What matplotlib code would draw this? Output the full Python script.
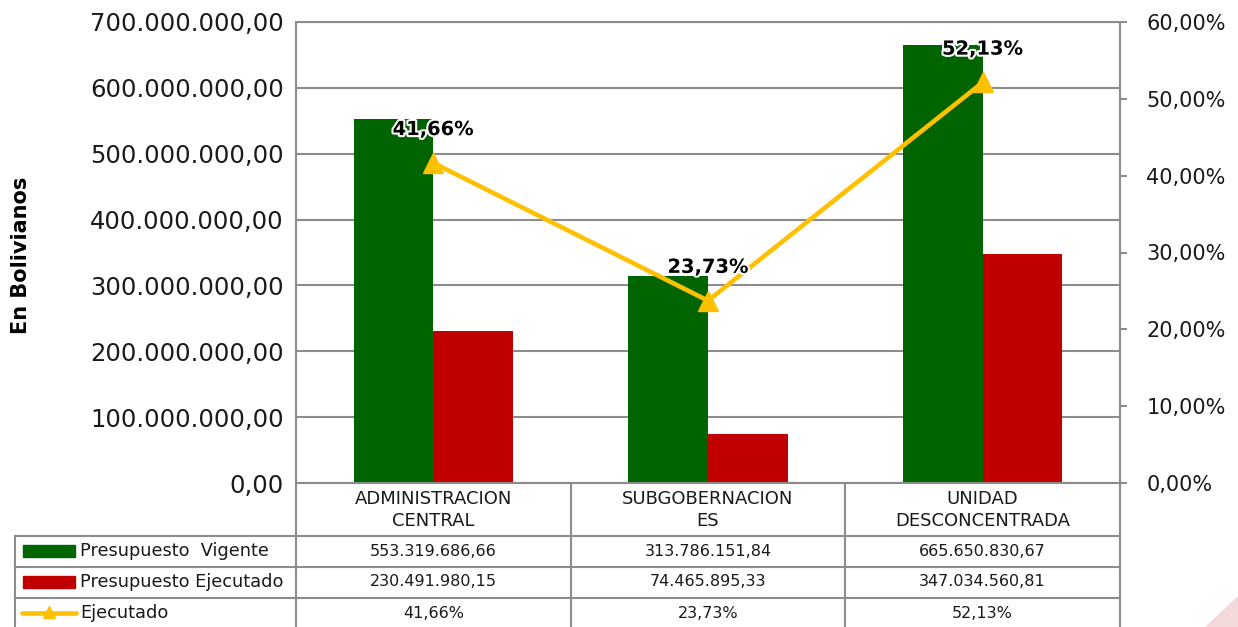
import matplotlib.pyplot as plt
import matplotlib.patheffects as pe
from matplotlib.patches import Rectangle, Polygon
from matplotlib.lines import Line2D
import numpy as np

# data
categories = ['ADMINISTRACION\nCENTRAL', 'SUBGOBERNACION\nES', 'UNIDAD\nDESCONCENTRADA']
vigente = [553319686.66, 313786151.84, 665650830.67]
ejecutado = [230491980.15, 74465895.33, 347034560.81]
pct_ejecutado = [41.66, 23.73, 52.13]
series_names = ['Presupuesto  Vigente', 'Presupuesto Ejecutado', 'Ejecutado']

GREEN = '#006400'
RED = '#C00000'
YELLOW = '#FFC000'
GRID = '#8c8c8c'
TXT = '#1a1a1a'

plt.rcParams['font.family'] = ['DejaVu Sans']


def es_num(v, dec=2):
    s = f"{v:,.{dec}f}"
    return s.replace(',', '#').replace('.', ',').replace('#', '.')


W, H = 1238, 627
fig = plt.figure(figsize=(W / 100, H / 100), dpi=100)
fig.patch.set_facecolor('white')

# plot area in pixels: x 296..1120, y 22..483
ax = fig.add_axes([296 / W, (H - 483) / H, (1120 - 296) / W, (483 - 22) / H])
x = np.arange(len(categories))
bw = 0.29
ax.bar(x - bw, vigente, width=bw, align='edge', color=GREEN, zorder=2)
ax.bar(x, ejecutado, width=bw, align='edge', color=RED, zorder=2)

ax.set_xlim(-0.5, 2.5)
ax.set_ylim(0, 700000000)
ax.set_yticks(np.arange(0, 700000001, 100000000))
ax.set_yticklabels([es_num(v) for v in np.arange(0, 700000001, 100000000)])
ax.set_xticks([])
ax.yaxis.grid(True, color=GRID, linewidth=1.5)
ax.set_axisbelow(True)
ax.tick_params(axis='y', length=0, pad=9, labelsize=17.5, labelcolor=TXT)
for s in ax.spines.values():
    s.set_color(GRID)
    s.set_linewidth(1.5)

fig.text(21 / W, 1 - 255 / H, 'En Bolivianos', rotation=90, ha='center', va='center',
         fontsize=15, fontweight='bold', color='black')

# secondary axis with the percentage line
ax2 = ax.twinx()
ax2.set_ylim(0, 0.6)
ax2.set_yticks(np.arange(0, 0.61, 0.1))
ax2.set_yticklabels([es_num(v * 100) + '%' for v in np.arange(0, 0.61, 0.1)])
ax2.tick_params(axis='y', length=5, width=1.5, color=GRID, pad=14, labelsize=15, labelcolor=TXT)
for s in ax2.spines.values():
    s.set_visible(False)
pct = np.array(pct_ejecutado) / 100
ax2.plot(x, pct, color=YELLOW, linewidth=3.3, marker='^', markersize=14, zorder=4)
for xi, p in zip(x, pct_ejecutado):
    ax2.annotate(es_num(p) + '%', (xi, p / 100), xytext=(0, 24), textcoords='offset points',
                 ha='center', va='center', fontsize=14, fontweight='bold', color='black',
                 path_effects=[pe.withStroke(linewidth=3, foreground='white')], zorder=5)

# data table under the chart
tr = ax.get_xaxis_transform()


def ay(py):
    return (483 - py) / (483 - 22)


x_left = -0.5 - (296 - 15) / ((1120 - 296) / 3)
row_tops = [536, 567, 598]
row_bot = 630
line_kw = dict(color=GRID, linewidth=1.5, transform=tr, clip_on=False)

for xv in [-0.5, 0.5, 1.5, 2.5]:
    ax.add_line(Line2D([xv, xv], [ay(483), ay(row_bot)], **line_kw))
ax.add_line(Line2D([x_left, x_left], [ay(536), ay(row_bot)], **line_kw))
for py in row_tops:
    ax.add_line(Line2D([x_left, 2.5], [ay(py), ay(py)], **line_kw))

for xi, c in zip(x, categories):
    ax.text(xi, ay(510), c, transform=tr, ha='center', va='center', fontsize=13,
            color=TXT, linespacing=1.3, clip_on=False)

rows = [[es_num(v) for v in vigente],
        [es_num(v) for v in ejecutado],
        [es_num(v) + '%' for v in pct_ejecutado]]
row_centers = [551, 582, 613]
for r, (vals, name) in enumerate(zip(rows, series_names)):
    yc_px = row_centers[r]
    for xi, v in zip(x, vals):
        ax.text(xi, ay(yc_px), v, transform=tr, ha='center', va='center', fontsize=11.5,
                color=TXT, clip_on=False)
    fig.text(80 / W, 1 - yc_px / H, name, ha='left', va='center', fontsize=12.8, color=TXT)

# legend keys
fig.patches.append(Rectangle((23 / W, 1 - 557 / H), 52 / W, 12 / H, color=GREEN,
                             transform=fig.transFigure))
fig.patches.append(Rectangle((23 / W, 1 - 588 / H), 52 / W, 12 / H, color=RED,
                             transform=fig.transFigure))
fig.lines.append(Line2D([22 / W, 76 / W], [1 - 613 / H, 1 - 613 / H], color=YELLOW,
                        linewidth=3.3, solid_capstyle='round', transform=fig.transFigure))
fig.lines.append(Line2D([49 / W], [1 - 612 / H], color=YELLOW, marker='^', markersize=9,
                        transform=fig.transFigure))

# faint corner decoration
fig.patches.append(Polygon([(1205 / W, 0), (1 + 0.001, 0), (1 + 0.001, 1 - 595 / H)],
                           closed=True, color='#f3dada', transform=fig.transFigure))

fig.savefig('out.png', dpi=100, facecolor='white')
